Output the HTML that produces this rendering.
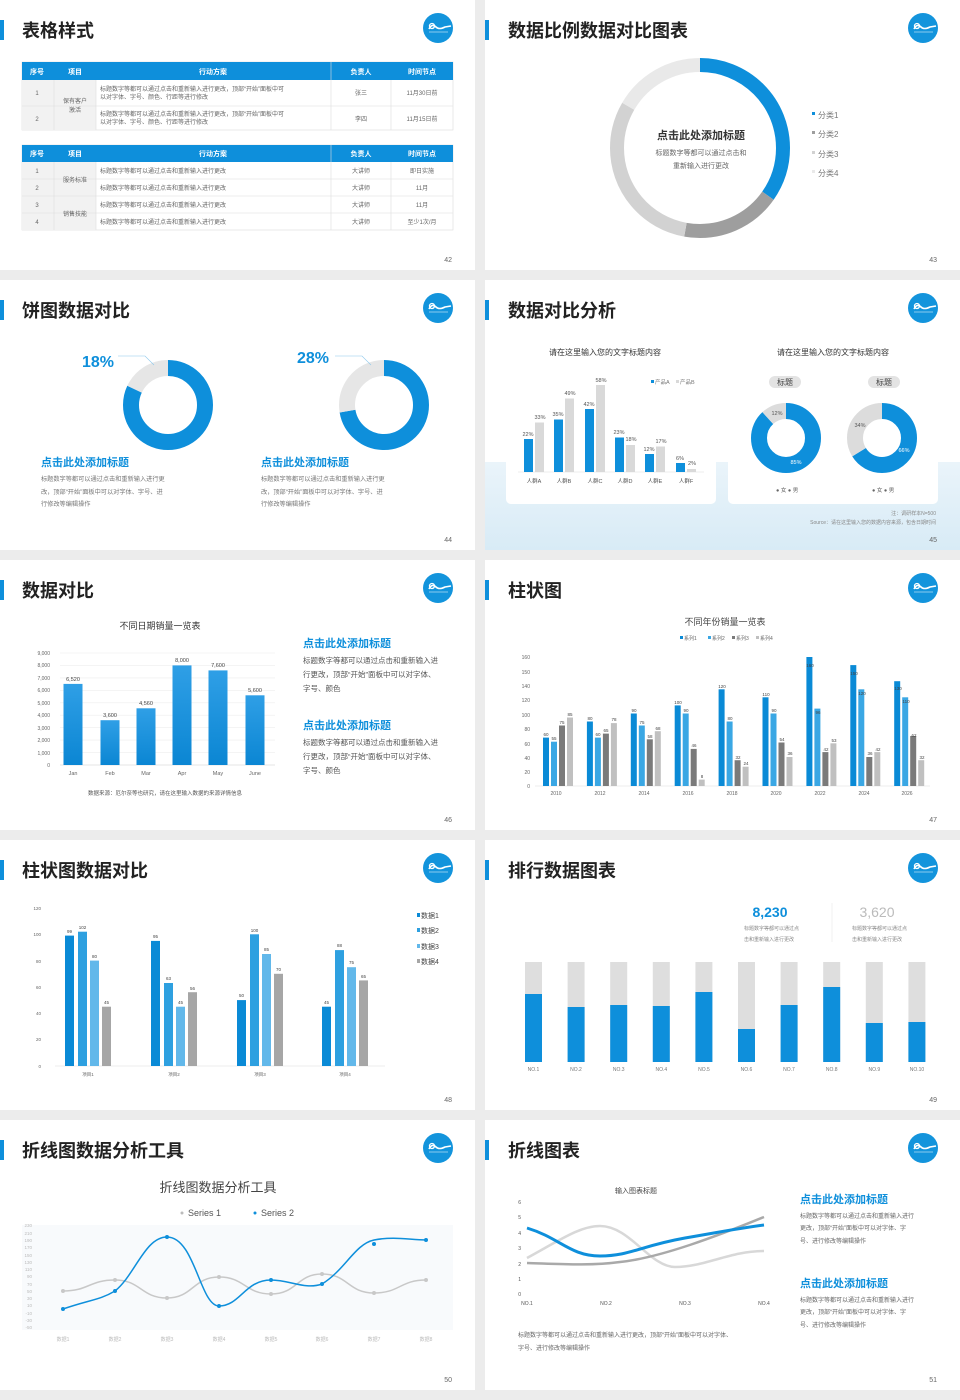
<!DOCTYPE html>
<html><head><meta charset="utf-8"><style>
html,body{margin:0;padding:0;background:#ececec;}
svg{display:block;font-family:"Liberation Sans","Noto Sans CJK SC",sans-serif;}
.t{font-size:18px;font-weight:bold;fill:#222;}
.pn{font-size:7px;fill:#666;}
.s{font-size:6px;fill:#666;}
.xs{font-size:5px;fill:#777;}
.b{fill:#0e8fdb;}
</style></head><body>
<svg width="960" height="1400" viewBox="0 0 960 1400" xmlns="http://www.w3.org/2000/svg">
<defs>
<g id="logo"><circle r="15" fill="#1394dc"/><path d="M-9 1 q3 -6 7 -2 q3 3 9 0 l6 -1" stroke="#fff" stroke-width="1.6" fill="none"/><circle cx="-6" cy="-2" r="2.5" fill="none" stroke="#fff" stroke-width="1.3"/><line x1="-9" y1="4" x2="10" y2="4" stroke="#fff" stroke-width="0.6"/></g>
<linearGradient id="bandg" x1="0" y1="0" x2="0" y2="1"><stop offset="0" stop-color="#eaf4fa"/><stop offset="1" stop-color="#d8ebf6"/></linearGradient>
<linearGradient id="barg" x1="0" y1="0" x2="0" y2="1"><stop offset="0" stop-color="#2f9fe6"/><stop offset="1" stop-color="#0b86d3"/></linearGradient>
</defs>
<rect width="960" height="1400" fill="#ececec"/>
<!-- slide backgrounds -->
<rect x="0" y="0" width="475" height="270" fill="#fff"/>
<rect x="485" y="0" width="475" height="270" fill="#fff"/>
<rect x="0" y="280" width="475" height="270" fill="#fff"/>
<rect x="485" y="280" width="475" height="270" fill="#fff"/>
<rect x="0" y="560" width="475" height="270" fill="#fff"/>
<rect x="485" y="560" width="475" height="270" fill="#fff"/>
<rect x="0" y="840" width="475" height="270" fill="#fff"/>
<rect x="485" y="840" width="475" height="270" fill="#fff"/>
<rect x="0" y="1120" width="475" height="270" fill="#fff"/>
<rect x="485" y="1120" width="475" height="270" fill="#fff"/>

<!-- headers -->
<g>
<rect x="0" y="20" width="4" height="20" class="b"/><text x="22" y="37" class="t">表格样式</text><use href="#logo" x="438" y="28"/><text x="452" y="262" class="pn" text-anchor="end">42</text>
<rect x="485" y="20" width="4" height="20" class="b"/><text x="508" y="37" class="t">数据比例数据对比图表</text><use href="#logo" x="923" y="28"/><text x="937" y="262" class="pn" text-anchor="end">43</text>
<rect x="0" y="300" width="4" height="20" class="b"/><text x="22" y="317" class="t">饼图数据对比</text><use href="#logo" x="438" y="308"/><text x="452" y="542" class="pn" text-anchor="end">44</text>
<rect x="485" y="300" width="4" height="20" class="b"/><text x="508" y="317" class="t">数据对比分析</text><use href="#logo" x="923" y="308"/>
<rect x="0" y="580" width="4" height="20" class="b"/><text x="22" y="597" class="t">数据对比</text><use href="#logo" x="438" y="588"/><text x="452" y="822" class="pn" text-anchor="end">46</text>
<rect x="485" y="580" width="4" height="20" class="b"/><text x="508" y="597" class="t">柱状图</text><use href="#logo" x="923" y="588"/><text x="937" y="822" class="pn" text-anchor="end">47</text>
<rect x="0" y="860" width="4" height="20" class="b"/><text x="22" y="877" class="t">柱状图数据对比</text><use href="#logo" x="438" y="868"/><text x="452" y="1102" class="pn" text-anchor="end">48</text>
<rect x="485" y="860" width="4" height="20" class="b"/><text x="508" y="877" class="t">排行数据图表</text><use href="#logo" x="923" y="868"/><text x="937" y="1102" class="pn" text-anchor="end">49</text>
<rect x="0" y="1140" width="4" height="20" class="b"/><text x="22" y="1157" class="t">折线图数据分析工具</text><use href="#logo" x="438" y="1148"/><text x="452" y="1382" class="pn" text-anchor="end">50</text>
<rect x="485" y="1140" width="4" height="20" class="b"/><text x="508" y="1157" class="t">折线图表</text><use href="#logo" x="923" y="1148"/><text x="937" y="1382" class="pn" text-anchor="end">51</text>
</g>

<!-- slide 42 tables -->
<g font-size="6">
<rect x="22" y="62" width="431" height="68" fill="#fff" stroke="#ddd" stroke-width="0.6"/>
<rect x="22" y="62" width="431" height="18" fill="#0e8fdb"/>
<rect x="22" y="80" width="74" height="50" fill="#f2f2f2"/>
<line x1="22" y1="106" x2="453" y2="106" stroke="#ddd" stroke-width="0.6"/>
<line x1="54" y1="80" x2="54" y2="130" stroke="#ddd" stroke-width="0.6"/><line x1="96" y1="80" x2="96" y2="130" stroke="#ddd" stroke-width="0.6"/><line x1="331" y1="62" x2="331" y2="130" stroke="#ddd" stroke-width="0.6"/><line x1="391" y1="80" x2="391" y2="130" stroke="#ddd" stroke-width="0.6"/>
<g fill="#fff" font-weight="bold" font-size="7" text-anchor="middle"><text x="37" y="74">序号</text><text x="75" y="74">项目</text><text x="213" y="74">行动方案</text><text x="361" y="74">负责人</text><text x="422" y="74">时间节点</text></g>
<g fill="#666" text-anchor="middle"><text x="37" y="95">1</text><text x="37" y="121">2</text><text x="75" y="103">保有客户</text><text x="75" y="112">激活</text><text x="361" y="95">张三</text><text x="361" y="121">李四</text><text x="422" y="95">11月30日前</text><text x="422" y="121">11月15日前</text></g>
<g fill="#666"><text x="100" y="91">标题数字等都可以通过点击和重新输入进行更改，顶部“开始”面板中可</text><text x="100" y="99">以对字体、字号、颜色、行距等进行修改</text><text x="100" y="116">标题数字等都可以通过点击和重新输入进行更改，顶部“开始”面板中可</text><text x="100" y="124">以对字体、字号、颜色、行距等进行修改</text></g>

<rect x="22" y="145" width="431" height="85" fill="#fff" stroke="#ddd" stroke-width="0.6"/>
<rect x="22" y="145" width="431" height="17" fill="#0e8fdb"/>
<rect x="22" y="162" width="74" height="68" fill="#f2f2f2"/>
<g stroke="#ddd" stroke-width="0.6"><line x1="22" y1="179" x2="453" y2="179"/><line x1="22" y1="196" x2="453" y2="196"/><line x1="22" y1="213" x2="453" y2="213"/><line x1="54" y1="162" x2="54" y2="230"/><line x1="96" y1="162" x2="96" y2="230"/><line x1="331" y1="145" x2="331" y2="230"/><line x1="391" y1="162" x2="391" y2="230"/></g>
<g fill="#fff" font-weight="bold" font-size="7" text-anchor="middle"><text x="37" y="156">序号</text><text x="75" y="156">项目</text><text x="213" y="156">行动方案</text><text x="361" y="156">负责人</text><text x="422" y="156">时间节点</text></g>
<g fill="#666" text-anchor="middle"><text x="37" y="173">1</text><text x="37" y="190">2</text><text x="37" y="207">3</text><text x="37" y="224">4</text><text x="75" y="182">服务标准</text><text x="75" y="216">销售技能</text><text x="361" y="173">大讲师</text><text x="361" y="190">大讲师</text><text x="361" y="207">大讲师</text><text x="361" y="224">大讲师</text><text x="422" y="173">即日实施</text><text x="422" y="190">11月</text><text x="422" y="207">11月</text><text x="422" y="224">至少1次/月</text></g>
<g fill="#666"><text x="100" y="173">标题数字等都可以通过点击和重新输入进行更改</text><text x="100" y="190">标题数字等都可以通过点击和重新输入进行更改</text><text x="100" y="207">标题数字等都可以通过点击和重新输入进行更改</text><text x="100" y="224">标题数字等都可以通过点击和重新输入进行更改</text></g>
</g>

<!-- slide 43 donut -->
<g fill="none" stroke-width="14" transform="rotate(-90 700 148)">
<circle cx="700" cy="148" r="83" stroke="#0e8fdb" stroke-dasharray="181.1 521.5"/>
<circle cx="700" cy="148" r="83" stroke="#9e9e9e" stroke-dasharray="94.2 521.5" stroke-dashoffset="-181.1"/>
<circle cx="700" cy="148" r="83" stroke="#d2d2d2" stroke-dasharray="159.4 521.5" stroke-dashoffset="-275.3"/>
<circle cx="700" cy="148" r="83" stroke="#e9e9e9" stroke-dasharray="86.9 521.5" stroke-dashoffset="-434.6"/>
</g>
<text x="701" y="139" text-anchor="middle" font-size="11" font-weight="bold" fill="#333">点击此处添加标题</text>
<text x="701" y="155" text-anchor="middle" font-size="7" fill="#666">标题数字等都可以通过点击和</text>
<text x="701" y="168" text-anchor="middle" font-size="7" fill="#666">重新输入进行更改</text>
<g font-size="8" fill="#777"><rect x="812" y="112" width="3" height="3" fill="#0e8fdb"/><text x="818" y="118">分类1</text><rect x="812" y="131" width="3" height="3" fill="#9e9e9e"/><text x="818" y="137">分类2</text><rect x="812" y="151" width="3" height="3" fill="#d2d2d2"/><text x="818" y="157">分类3</text><rect x="812" y="170" width="3" height="3" fill="#e9e9e9"/><text x="818" y="176">分类4</text></g>

<!-- slide 44 -->
<g fill="none" stroke-width="16">
<g transform="rotate(-90 168 405)"><circle cx="168" cy="405" r="37" stroke="#0e8fdb" stroke-dasharray="190.4 232.5"/><circle cx="168" cy="405" r="37" stroke="#e6e6e6" stroke-dasharray="42.1 232.5" stroke-dashoffset="-190.4"/></g>
<g transform="rotate(-90 384 405)"><circle cx="384" cy="405" r="37" stroke="#0e8fdb" stroke-dasharray="167.9 232.5"/><circle cx="384" cy="405" r="37" stroke="#e6e6e6" stroke-dasharray="64.6 232.5" stroke-dashoffset="-167.9"/></g>
</g>
<text x="82" y="367" font-size="16" font-weight="bold" fill="#0e8fdb">18%</text>
<polyline points="118,356 145,356 154,365" fill="none" stroke="#8cc8ec" stroke-width="0.6"/>
<text x="297" y="363" font-size="16" font-weight="bold" fill="#0e8fdb">28%</text>
<polyline points="335,356 362,356 371,365" fill="none" stroke="#8cc8ec" stroke-width="0.6"/>
<text x="41" y="466" font-size="11" font-weight="bold" fill="#0e8fdb">点击此处添加标题</text>
<text x="261" y="466" font-size="11" font-weight="bold" fill="#0e8fdb">点击此处添加标题</text>
<g font-size="6.2" fill="#777"><text x="41" y="481">标题数字等都可以通过点击和重新输入进行更</text><text x="41" y="494">改，顶部“开始”面板中可以对字体、字号、进</text><text x="41" y="506">行修改等编辑操作</text>
<text x="261" y="481">标题数字等都可以通过点击和重新输入进行更</text><text x="261" y="494">改，顶部“开始”面板中可以对字体、字号、进</text><text x="261" y="506">行修改等编辑操作</text></g>

<!-- slide 45 -->
<rect x="485" y="462" width="475" height="88" fill="url(#bandg)"/>
<rect x="506" y="333" width="210" height="171" rx="5" fill="#fff"/>
<rect x="728" y="333" width="210" height="171" rx="5" fill="#fff"/>
<text x="605" y="355" text-anchor="middle" font-size="8" fill="#333">请在这里输入您的文字标题内容</text>
<text x="833" y="355" text-anchor="middle" font-size="8" fill="#333">请在这里输入您的文字标题内容</text>
<g font-size="5.5" fill="#777"><rect x="651" y="380" width="3" height="3" fill="#0e8fdb"/><text x="655" y="384">产品A</text><rect x="676" y="380" width="3" height="3" fill="#d9d9d9"/><text x="680" y="384">产品B</text></g>
<line x1="518" y1="472" x2="704" y2="472" stroke="#ddd" stroke-width="0.6"/>
<g fill="#0e8fdb"><rect x="524" y="439" width="9" height="33"/><rect x="554" y="419.5" width="9" height="52.5"/><rect x="585" y="409" width="9" height="63"/><rect x="615" y="437.5" width="9" height="34.5"/><rect x="645" y="454" width="9" height="18"/><rect x="676" y="463" width="9" height="9"/></g>
<g fill="#d9d9d9"><rect x="535" y="422.5" width="9" height="49.5"/><rect x="565" y="398.5" width="9" height="73.5"/><rect x="596" y="385" width="9" height="87"/><rect x="626" y="445" width="9" height="27"/><rect x="656" y="446.5" width="9" height="25.5"/><rect x="687" y="469" width="9" height="3"/></g>
<g font-size="5.5" fill="#555" text-anchor="middle"><text x="528" y="436">22%</text><text x="540" y="419">33%</text><text x="558" y="416">35%</text><text x="570" y="395">49%</text><text x="589" y="406">42%</text><text x="601" y="382">58%</text><text x="619" y="434">23%</text><text x="631" y="441">18%</text><text x="649" y="451">12%</text><text x="661" y="443">17%</text><text x="680" y="460">6%</text><text x="692" y="465">2%</text>
<text x="534" y="483">人群A</text><text x="564" y="483">人群B</text><text x="595" y="483">人群C</text><text x="625" y="483">人群D</text><text x="655" y="483">人群E</text><text x="686" y="483">人群F</text></g>
<rect x="769" y="376" width="32" height="12" rx="6" fill="#e3e3e3"/><text x="785" y="385" text-anchor="middle" font-size="8" fill="#444">标题</text>
<rect x="868" y="376" width="32" height="12" rx="6" fill="#e3e3e3"/><text x="884" y="385" text-anchor="middle" font-size="8" fill="#444">标题</text>
<g fill="none" stroke-width="16">
<g transform="rotate(-90 786 438)"><circle cx="786" cy="438" r="27" stroke="#0e8fdb" stroke-dasharray="149.4 169.6"/><circle cx="786" cy="438" r="27" stroke="#dcdcdc" stroke-dasharray="20.3 169.6" stroke-dashoffset="-149.4"/></g>
<g transform="rotate(-90 882 438)"><circle cx="882" cy="438" r="27" stroke="#0e8fdb" stroke-dasharray="112.1 169.6"/><circle cx="882" cy="438" r="27" stroke="#dcdcdc" stroke-dasharray="57.5 169.6" stroke-dashoffset="-112.1"/></g>
</g>
<g font-size="5.5" text-anchor="middle"><text x="777" y="415" fill="#555">12%</text><text x="796" y="464" fill="#fff">85%</text><text x="860" y="427" fill="#555">34%</text><text x="904" y="452" fill="#fff">66%</text></g>
<g font-size="5.5" fill="#666"><text x="776" y="492">● 女 ● 男</text><text x="872" y="492">● 女 ● 男</text></g>
<g font-size="5" fill="#888" text-anchor="end"><text x="936" y="515">注：调研样本N=500</text><text x="936" y="524">Source：请在这里输入您的数据内容来源，包含日期时间</text></g>
<text x="937" y="542" class="pn" text-anchor="end">45</text>

<!-- slide 46 -->
<text x="160" y="629" text-anchor="middle" font-size="9" fill="#333">不同日期销量一览表</text>
<g stroke="#eee" stroke-width="0.6"><line x1="60" y1="653" x2="275" y2="653"/><line x1="60" y1="665.4" x2="275" y2="665.4"/><line x1="60" y1="677.9" x2="275" y2="677.9"/><line x1="60" y1="690.3" x2="275" y2="690.3"/><line x1="60" y1="702.8" x2="275" y2="702.8"/><line x1="60" y1="715.2" x2="275" y2="715.2"/><line x1="60" y1="727.7" x2="275" y2="727.7"/><line x1="60" y1="740.1" x2="275" y2="740.1"/><line x1="60" y1="752.6" x2="275" y2="752.6"/><line x1="60" y1="765" x2="275" y2="765" stroke="#ccc"/></g>
<g font-size="5" fill="#666" text-anchor="end"><text x="50" y="655">9,000</text><text x="50" y="667">8,000</text><text x="50" y="680">7,000</text><text x="50" y="692">6,000</text><text x="50" y="705">5,000</text><text x="50" y="717">4,000</text><text x="50" y="730">3,000</text><text x="50" y="742">2,000</text><text x="50" y="755">1,000</text><text x="50" y="767">0</text></g>
<g fill="url(#barg)"><rect x="63.5" y="683.9" width="19" height="81.1"/><rect x="100.5" y="720.2" width="19" height="44.8"/><rect x="136.5" y="708.3" width="19" height="56.7"/><rect x="172.5" y="665.4" width="19" height="99.6"/><rect x="208.5" y="670.4" width="19" height="94.6"/><rect x="245.5" y="695.3" width="19" height="69.7"/></g>
<g font-size="5.5" fill="#444" text-anchor="middle"><text x="73" y="681">6,520</text><text x="110" y="717">3,600</text><text x="146" y="705">4,560</text><text x="182" y="662">8,000</text><text x="218" y="667">7,600</text><text x="255" y="692">5,600</text>
<text x="73" y="775" fill="#666">Jan</text><text x="110" y="775" fill="#666">Feb</text><text x="146" y="775" fill="#666">Mar</text><text x="182" y="775" fill="#666">Apr</text><text x="218" y="775" fill="#666">May</text><text x="255" y="775" fill="#666">June</text></g>
<text x="165" y="795" text-anchor="middle" font-size="5.5" fill="#555">数据来源：厄尔奈等也研究，请在这里输入数据的来源详情信息</text>
<text x="303" y="647" font-size="11" font-weight="bold" fill="#0e8fdb">点击此处添加标题</text>
<text x="303" y="729" font-size="11" font-weight="bold" fill="#0e8fdb">点击此处添加标题</text>
<g font-size="7.5" fill="#555"><text x="303" y="663">标题数字等都可以通过点击和重新输入进</text><text x="303" y="677">行更改，顶部“开始”面板中可以对字体、</text><text x="303" y="691">字号、颜色</text>
<text x="303" y="745">标题数字等都可以通过点击和重新输入进</text><text x="303" y="759">行更改，顶部“开始”面板中可以对字体、</text><text x="303" y="773">字号、颜色</text></g>

<!-- slide 47 -->
<text x="725" y="625" text-anchor="middle" font-size="9" fill="#444">不同年份销量一览表</text>
<g font-size="5" fill="#666"><rect x="680" y="636" width="3" height="3" fill="#0a8ad6"/><text x="684" y="640">系列1</text><rect x="708" y="636" width="3" height="3" fill="#3aa7e4"/><text x="712" y="640">系列2</text><rect x="732" y="636" width="3" height="3" fill="#7a7a7a"/><text x="736" y="640">系列3</text><rect x="756" y="636" width="3" height="3" fill="#c0c0c0"/><text x="760" y="640">系列4</text></g>
<line x1="535" y1="786" x2="930" y2="786" stroke="#ddd" stroke-width="0.6"/>
<g font-size="5" fill="#666" text-anchor="end"><text x="530" y="659">160</text><text x="530" y="674">150</text><text x="530" y="688">140</text><text x="530" y="702">120</text><text x="530" y="717">100</text><text x="530" y="731">80</text><text x="530" y="746">60</text><text x="530" y="760">40</text><text x="530" y="774">20</text><text x="530" y="788">0</text></g>
<g fill="#0a8ad6"><rect x="543" y="737.6" width="6" height="48.4"/><rect x="586.9" y="721.5" width="6" height="64.5"/><rect x="630.8" y="713.5" width="6" height="72.5"/><rect x="674.7" y="705.4" width="6" height="80.6"/><rect x="718.6" y="689.3" width="6" height="96.7"/><rect x="762.5" y="697.3" width="6" height="88.7"/><rect x="806.4" y="657" width="6" height="129"/><rect x="850.3" y="665.1" width="6" height="120.9"/><rect x="894.2" y="681.2" width="6" height="104.8"/></g>
<g fill="#3aa7e4"><rect x="551" y="741.7" width="6" height="44.3"/><rect x="594.9" y="737.6" width="6" height="48.4"/><rect x="638.8" y="725.5" width="6" height="60.5"/><rect x="682.7" y="713.5" width="6" height="72.5"/><rect x="726.6" y="721.5" width="6" height="64.5"/><rect x="770.5" y="713.5" width="6" height="72.5"/><rect x="814.4" y="708.6" width="6" height="77.4"/><rect x="858.3" y="689.3" width="6" height="96.7"/><rect x="902.2" y="697.3" width="6" height="88.7"/></g>
<g fill="#7a7a7a"><rect x="559" y="725.5" width="6" height="60.5"/><rect x="602.9" y="733.6" width="6" height="52.4"/><rect x="646.8" y="739.3" width="6" height="46.7"/><rect x="690.7" y="748.9" width="6" height="37.1"/><rect x="734.6" y="760.2" width="6" height="25.8"/><rect x="778.5" y="742.5" width="6" height="43.5"/><rect x="822.4" y="752.1" width="6" height="33.9"/><rect x="866.3" y="757" width="6" height="29"/><rect x="910.2" y="736" width="6" height="50"/></g>
<g fill="#c0c0c0"><rect x="567" y="717.5" width="6" height="68.5"/><rect x="610.9" y="723.1" width="6" height="62.9"/><rect x="654.8" y="731.2" width="6" height="54.8"/><rect x="698.7" y="779.6" width="6" height="6.4"/><rect x="742.6" y="766.7" width="6" height="19.3"/><rect x="786.5" y="757" width="6" height="29"/><rect x="830.4" y="743.3" width="6" height="42.7"/><rect x="874.3" y="752.1" width="6" height="33.9"/><rect x="918.2" y="760.2" width="6" height="25.8"/></g>
<g font-size="4.5" fill="#444" text-anchor="middle">
<text x="546" y="736">60</text><text x="554" y="740">55</text><text x="562" y="724">75</text><text x="570" y="716">85</text>
<text x="590" y="720">80</text><text x="598" y="736">60</text><text x="606" y="732">65</text><text x="614" y="721">78</text>
<text x="634" y="712">90</text><text x="642" y="724">75</text><text x="650" y="738">58</text><text x="658" y="730">68</text>
<text x="678" y="704">100</text><text x="686" y="712">90</text><text x="694" y="747">46</text><text x="702" y="778">8</text>
<text x="722" y="688">120</text><text x="730" y="720">80</text><text x="738" y="759">32</text><text x="746" y="765">24</text>
<text x="766" y="696">110</text><text x="774" y="712">90</text><text x="782" y="741">54</text><text x="790" y="755">36</text>
<text x="810" y="667">160</text><text x="818" y="714">96</text><text x="826" y="751">42</text><text x="834" y="742">53</text>
<text x="854" y="675">150</text><text x="862" y="695">120</text><text x="870" y="755">36</text><text x="878" y="751">42</text>
<text x="898" y="690">130</text><text x="906" y="703">110</text><text x="914" y="737">62</text><text x="922" y="759">32</text></g>
<g font-size="5" fill="#666" text-anchor="middle"><text x="556" y="795">2010</text><text x="600" y="795">2012</text><text x="644" y="795">2014</text><text x="688" y="795">2016</text><text x="732" y="795">2018</text><text x="776" y="795">2020</text><text x="820" y="795">2022</text><text x="864" y="795">2024</text><text x="907" y="795">2026</text></g>

<!-- slide 48 -->
<g font-size="4.5" fill="#666" text-anchor="end"><text x="41" y="910">120</text><text x="41" y="936">100</text><text x="41" y="963">80</text><text x="41" y="989">60</text><text x="41" y="1015">40</text><text x="41" y="1041">20</text><text x="41" y="1068">0</text></g>
<line x1="55" y1="1066" x2="385" y2="1066" stroke="#ddd" stroke-width="0.6"/>
<g fill="#0a8ad6"><rect x="65" y="935.6" width="9" height="130.4"/><rect x="151" y="940.9" width="9" height="125.1"/><rect x="237" y="1000.1" width="9" height="65.9"/><rect x="322" y="1006.7" width="9" height="59.3"/></g>
<g fill="#2ea0e0"><rect x="78" y="931.7" width="9" height="134.3"/><rect x="164" y="983" width="9" height="83"/><rect x="250" y="934.3" width="9" height="131.7"/><rect x="335" y="950.1" width="9" height="115.9"/></g>
<g fill="#62b8ea"><rect x="90" y="960.6" width="9" height="105.4"/><rect x="176" y="1006.7" width="9" height="59.3"/><rect x="262" y="954" width="9" height="112"/><rect x="347" y="967.2" width="9" height="98.8"/></g>
<g fill="#a6a6a6"><rect x="102" y="1006.7" width="9" height="59.3"/><rect x="188" y="992.2" width="9" height="73.8"/><rect x="274" y="973.8" width="9" height="92.2"/><rect x="359" y="980.4" width="9" height="85.6"/></g>
<g font-size="4.5" fill="#444" text-anchor="middle"><text x="69.5" y="933">99</text><text x="82.5" y="929">102</text><text x="94.5" y="958">80</text><text x="106.5" y="1004">45</text><text x="155.5" y="938">95</text><text x="168.5" y="980">63</text><text x="180.5" y="1004">45</text><text x="192.5" y="990">56</text><text x="241.5" y="997">50</text><text x="254.5" y="932">100</text><text x="266.5" y="951">85</text><text x="278.5" y="971">70</text><text x="326.5" y="1004">45</text><text x="339.5" y="947">88</text><text x="351.5" y="964">75</text><text x="363.5" y="978">65</text>
<text x="88" y="1076" fill="#666">项目1</text><text x="174" y="1076" fill="#666">项目2</text><text x="260" y="1076" fill="#666">项目3</text><text x="345" y="1076" fill="#666">项目4</text></g>
<g font-size="7" fill="#444"><rect x="417" y="913" width="3" height="4" fill="#0a8ad6"/><text x="421" y="918">数据1</text><rect x="417" y="928" width="3" height="4" fill="#2ea0e0"/><text x="421" y="933">数据2</text><rect x="417" y="944" width="3" height="4" fill="#62b8ea"/><text x="421" y="949">数据3</text><rect x="417" y="959" width="3" height="4" fill="#a6a6a6"/><text x="421" y="964">数据4</text></g>

<!-- slide 49 -->
<text x="770" y="917" text-anchor="middle" font-size="14" font-weight="bold" fill="#0e8fdb">8,230</text>
<text x="877" y="917" text-anchor="middle" font-size="14" fill="#bbb">3,620</text>
<line x1="832" y1="903" x2="832" y2="942" stroke="#eee" stroke-width="0.8"/>
<g font-size="5" fill="#888"><text x="744" y="930">标题数字等都可以通过点</text><text x="744" y="941">击和重新输入进行更改</text><text x="852" y="930">标题数字等都可以通过点</text><text x="852" y="941">击和重新输入进行更改</text></g>
<g fill="#dedede"><rect x="525" y="962" width="17" height="100"/><rect x="567.6" y="962" width="17" height="100"/><rect x="610.2" y="962" width="17" height="100"/><rect x="652.8" y="962" width="17" height="100"/><rect x="695.4" y="962" width="17" height="100"/><rect x="738" y="962" width="17" height="100"/><rect x="780.6" y="962" width="17" height="100"/><rect x="823.2" y="962" width="17" height="100"/><rect x="865.8" y="962" width="17" height="100"/><rect x="908.4" y="962" width="17" height="100"/></g>
<g fill="#0e8fdb"><rect x="525" y="994" width="17" height="68"/><rect x="567.6" y="1007" width="17" height="55"/><rect x="610.2" y="1005" width="17" height="57"/><rect x="652.8" y="1006" width="17" height="56"/><rect x="695.4" y="992" width="17" height="70"/><rect x="738" y="1029" width="17" height="33"/><rect x="780.6" y="1005" width="17" height="57"/><rect x="823.2" y="987" width="17" height="75"/><rect x="865.8" y="1023" width="17" height="39"/><rect x="908.4" y="1022" width="17" height="40"/></g>
<g font-size="5" fill="#777" text-anchor="middle"><text x="533.5" y="1071">NO.1</text><text x="576" y="1071">NO.2</text><text x="618.7" y="1071">NO.3</text><text x="661.3" y="1071">NO.4</text><text x="704" y="1071">NO.5</text><text x="746.5" y="1071">NO.6</text><text x="789" y="1071">NO.7</text><text x="831.7" y="1071">NO.8</text><text x="874.3" y="1071">NO.9</text><text x="917" y="1071">NO.10</text></g>

<!-- slide 50 -->
<text x="218" y="1192" text-anchor="middle" font-size="13" fill="#444">折线图数据分析工具</text>
<g font-size="9" fill="#555"><circle cx="182" cy="1213" r="1.5" fill="#bbb"/><text x="188" y="1216">Series 1</text><circle cx="255" cy="1213" r="1.5" fill="#0e8fdb"/><text x="261" y="1216">Series 2</text></g>
<rect x="22" y="1225" width="431" height="105" fill="#f8fafc"/>
<g font-size="4.5" fill="#bbb" text-anchor="end"><text x="32" y="1227">230</text><text x="32" y="1235">210</text><text x="32" y="1242">190</text><text x="32" y="1249">170</text><text x="32" y="1257">150</text><text x="32" y="1264">130</text><text x="32" y="1271">110</text><text x="32" y="1278">90</text><text x="32" y="1286">70</text><text x="32" y="1293">50</text><text x="32" y="1300">30</text><text x="32" y="1307">10</text><text x="32" y="1315">-10</text><text x="32" y="1322">-30</text><text x="32" y="1329">-50</text></g>
<path d="M63 1291 C89 1291 89 1280 115 1280 C141 1280 141 1298 167 1298 C193 1298 193 1277 219 1277 C245 1277 245 1294 271 1294 C297 1294 297 1274 322 1274 C348 1274 348 1293 374 1293 C400 1293 400 1280 426 1280" fill="none" stroke="#c8c8c8" stroke-width="1.5"/>
<path d="M63 1309 C89 1300 100 1300 115 1291 C135 1275 145 1237 167 1237 C195 1237 200 1306 219 1306 C240 1306 245 1280 271 1280 C290 1280 305 1290 322 1284 C345 1270 355 1244 374 1240 C395 1236 410 1240 426 1240" fill="none" stroke="#0e8fdb" stroke-width="1.5"/>
<g fill="#0e8fdb"><circle cx="63" cy="1309" r="2"/><circle cx="115" cy="1291" r="2"/><circle cx="167" cy="1237" r="2"/><circle cx="219" cy="1306" r="2"/><circle cx="271" cy="1280" r="2"/><circle cx="322" cy="1284" r="2"/><circle cx="374" cy="1244" r="2"/><circle cx="426" cy="1240" r="2"/></g>
<g fill="#c8c8c8"><circle cx="63" cy="1291" r="2"/><circle cx="115" cy="1280" r="2"/><circle cx="167" cy="1298" r="2"/><circle cx="219" cy="1277" r="2"/><circle cx="271" cy="1294" r="2"/><circle cx="322" cy="1274" r="2"/><circle cx="374" cy="1293" r="2"/><circle cx="426" cy="1280" r="2"/></g>
<g font-size="5" fill="#bbb" text-anchor="middle"><text x="63" y="1341">数据1</text><text x="115" y="1341">数据2</text><text x="167" y="1341">数据3</text><text x="219" y="1341">数据4</text><text x="271" y="1341">数据5</text><text x="322" y="1341">数据6</text><text x="374" y="1341">数据7</text><text x="426" y="1341">数据8</text></g>

<!-- slide 51 -->
<text x="636" y="1193" text-anchor="middle" font-size="7" fill="#444">输入图表标题</text>
<g font-size="5" fill="#555" text-anchor="end"><text x="521" y="1204">6</text><text x="521" y="1219">5</text><text x="521" y="1235">4</text><text x="521" y="1250">3</text><text x="521" y="1266">2</text><text x="521" y="1281">1</text><text x="521" y="1296">0</text></g>
<g font-size="5" fill="#555" text-anchor="middle"><text x="527" y="1305">NO.1</text><text x="606" y="1305">NO.2</text><text x="685" y="1305">NO.3</text><text x="764" y="1305">NO.4</text></g>
<path d="M527 1258 C560 1240 580 1226 600 1226 C630 1226 650 1267 675 1267 C705 1267 730 1251 764 1251" fill="none" stroke="#d8d8d8" stroke-width="2.5"/>
<path d="M527 1263 C560 1264 590 1266 620 1262 C660 1258 720 1235 764 1217" fill="none" stroke="#a9a9a9" stroke-width="2.5"/>
<path d="M527 1228 C560 1238 570 1256 600 1256 C630 1256 640 1246 685 1238 C720 1232 740 1228 764 1225" fill="none" stroke="#0e8fdb" stroke-width="3"/>
<text x="800" y="1203" font-size="11" font-weight="bold" fill="#0e8fdb">点击此处添加标题</text>
<text x="800" y="1287" font-size="11" font-weight="bold" fill="#0e8fdb">点击此处添加标题</text>
<g font-size="6" fill="#666"><text x="800" y="1218">标题数字等都可以通过点击和重新输入进行</text><text x="800" y="1230">更改，顶部“开始”面板中可以对字体、字</text><text x="800" y="1243">号、进行修改等编辑操作</text>
<text x="800" y="1302">标题数字等都可以通过点击和重新输入进行</text><text x="800" y="1314">更改，顶部“开始”面板中可以对字体、字</text><text x="800" y="1327">号、进行修改等编辑操作</text>
<text x="518" y="1337">标题数字等都可以通过点击和重新输入进行更改，顶部“开始”面板中可以对字体、</text><text x="518" y="1350">字号、进行修改等编辑操作</text></g>
</svg>
</body></html>
